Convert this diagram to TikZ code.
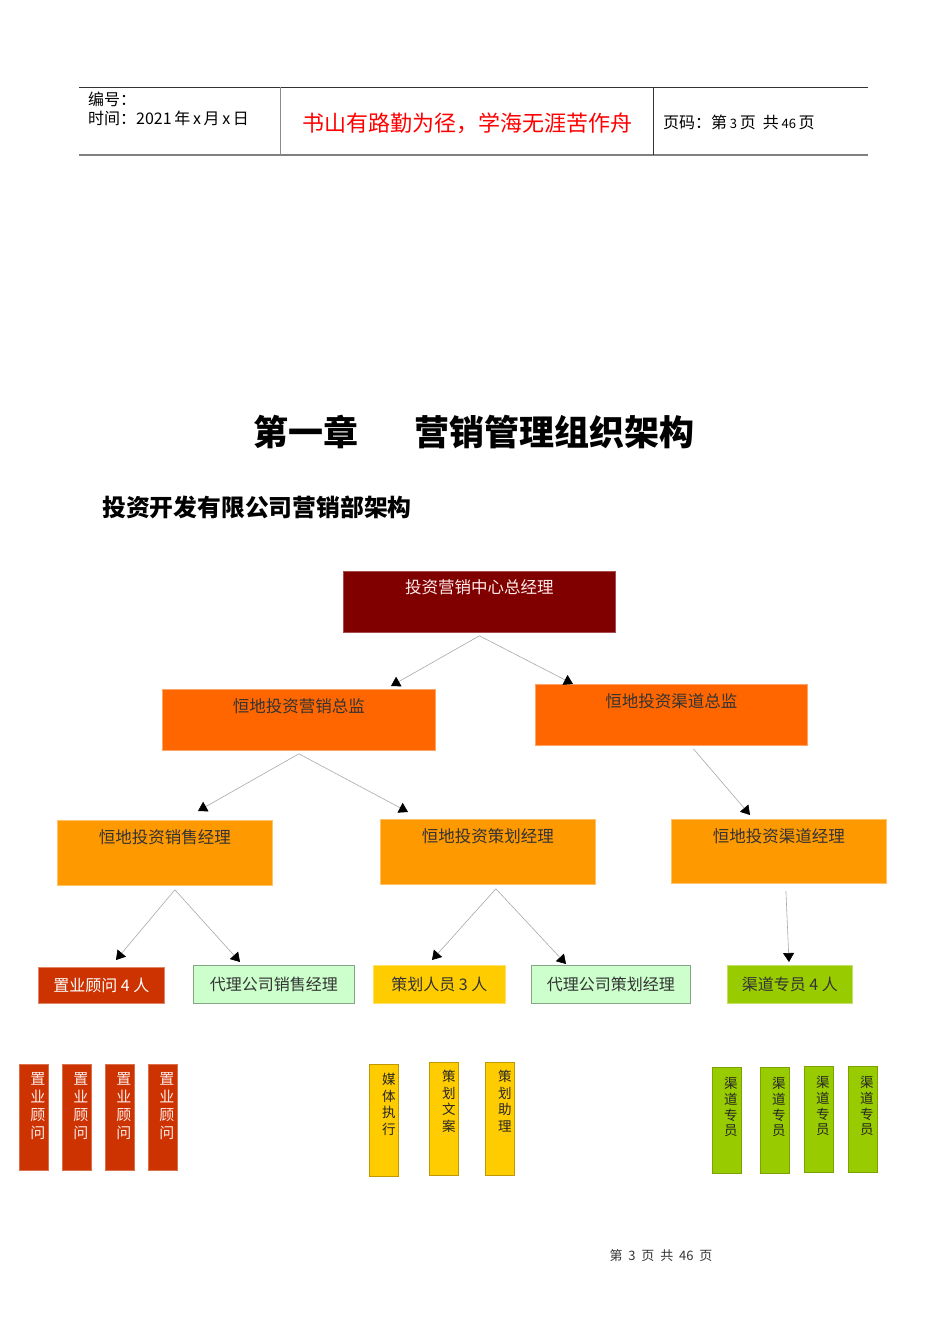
\documentclass[tikz,border=0pt]{standalone}
\usepackage{fontspec}
\setmainfont{Noto Sans CJK SC}
\usetikzlibrary{arrows.meta}
\definecolor{darkred}{HTML}{800000}
\definecolor{orangeA}{HTML}{FF6600}
\definecolor{orangeB}{HTML}{FF9900}
\definecolor{redC}{HTML}{CC3300}
\definecolor{paleG}{HTML}{CCFFCC}
\definecolor{yellowC}{HTML}{FFCC00}
\definecolor{greenC}{HTML}{99CC00}
\definecolor{redtext}{HTML}{FF0000}
\definecolor{linegray}{HTML}{A8A8A8}
\begin{document}
\begin{tikzpicture}[x=1pt,y=-1pt,
  box/.style={rectangle,anchor=north west,inner sep=0pt,line width=0.8pt},
  conn/.style={draw=linegray,line width=0.6pt,-{Triangle[width=11pt,length=9pt,black]}},
  boxtext/.style={font=\fontsize{16}{18}\selectfont},
  vtext/.style={anchor=north,align=center,inner sep=0pt}
]
\useasboundingbox (0,0) rectangle (950,1344);

% header
\draw[line width=0.8pt,black!80] (79,87) coordinate (hl) -- (868,87) coordinate (hr);
\draw[line width=1.4pt,black!50] (79,155) coordinate (bl) -- (868,155) coordinate (br);
\draw[line width=0.8pt,black!45] (280,87) coordinate (v1t) -- (280,155) coordinate (v1b);
\draw[line width=0.8pt,black!80] (653,87) coordinate (v2t) -- (653,155) coordinate (v2b);
\node[anchor=west,inner sep=0pt,font=\fontsize{16}{18}\selectfont] (hno) at (88,99) {编号：};
\node[anchor=west,inner sep=0pt,font=\fontsize{16}{18}\selectfont] (htime) at (88,118) {时间：2021\,年\,x\,月\,x\,日};
\node[inner sep=0pt,font=\fontsize{22}{24}\selectfont,text=redtext] (hmotto) at (467,123) {书山有路勤为径，学海无涯苦作舟};
\node[anchor=west,inner sep=0pt,font=\fontsize{16}{18}\selectfont] (hpage) at (663,122) {页码：第\,{\fontsize{13}{14}\selectfont 3}\,页\ \ 共\,{\fontsize{13}{14}\selectfont 46}\,页};

% titles
\node[inner sep=0pt,font=\bfseries\fontsize{35}{37}\selectfont] (title) at (474,432) {第一章\hspace{1.6em}营销管理组织架构};
\node[anchor=west,inner sep=0pt,font=\bfseries\fontsize{23.8}{26}\selectfont] (subtitle) at (102,507) {投资开发有限公司营销部架构};

% level 1
\node[box,fill=darkred,draw=darkred!70!white,minimum width=272pt,minimum height=61pt,
  label={[anchor=center,yshift=-16pt,inner sep=0pt,font=\fontsize{16.5}{18}\selectfont,text=red!8!white]north:投资营销中心总经理}] (top) at (343,571) {};

% level 2
\node[box,fill=orangeA,draw=orangeA!60!white,minimum width=273pt,minimum height=61pt,
  label={[anchor=center,yshift=-17pt,inner sep=0pt,font=\fontsize{16.5}{18}\selectfont,text=black!80]north:恒地投资营销总监}] (mkt) at (162,689) {};
\node[box,fill=orangeA,draw=orangeA!60!white,minimum width=272pt,minimum height=61pt,
  label={[anchor=center,yshift=-17pt,inner sep=0pt,font=\fontsize{16.5}{18}\selectfont,text=black!80]north:恒地投资渠道总监}] (chn) at (535,684) {};

% level 3
\node[box,fill=orangeB,draw=orangeB!60!white,minimum width=215pt,minimum height=65pt,
  label={[anchor=center,yshift=-17pt,inner sep=0pt,font=\fontsize{16.5}{18}\selectfont,text=black!80]north:恒地投资销售经理}] (sales) at (57,820) {};
\node[box,fill=orangeB,draw=orangeB!60!white,minimum width=215pt,minimum height=65pt,
  label={[anchor=center,yshift=-17pt,inner sep=0pt,font=\fontsize{16.5}{18}\selectfont,text=black!80]north:恒地投资策划经理}] (plan) at (380,819) {};
\node[box,fill=orangeB,draw=orangeB!60!white,minimum width=215pt,minimum height=64pt,
  label={[anchor=center,yshift=-17pt,inner sep=0pt,font=\fontsize{16.5}{18}\selectfont,text=black!80]north:恒地投资渠道经理}] (chm) at (671,819) {};

% level 4
\node[box,fill=redC,draw=redC!60!white,minimum width=126pt,minimum height=36pt,boxtext,text=white] (adv) at (38,967) {置业顾问 4 人};
\node[box,fill=paleG,draw=black!35!paleG,minimum width=161pt,minimum height=38pt,boxtext,text=black!80] (agS) at (193,965) {代理公司销售经理};
\node[box,fill=yellowC,draw=yellowC!60!white,minimum width=132pt,minimum height=38pt,boxtext,text=black!80] (planner) at (373,965) {策划人员 3 人};
\node[box,fill=paleG,draw=black!35!paleG,minimum width=159pt,minimum height=38pt,boxtext,text=black!80] (agP) at (531,965) {代理公司策划经理};
\node[box,fill=greenC,draw=greenC!60!white,minimum width=125pt,minimum height=38pt,boxtext,text=black!80] (chs) at (727,965) {渠道专员 4 人};

% level 5 red
\foreach \x [count=\i] in {19,62,105,148}{
  \node[box,fill=redC,draw=redC!70!white,minimum width=29pt,minimum height=106pt,
    label={[vtext,yshift=-8pt,xshift=4pt,font=\fontsize{15}{18.2}\selectfont,text=white!92!red]north:置\\业\\顾\\问}] (r\i) at (\x,1064) {};
}
% level 5 yellow
\node[box,fill=yellowC,draw=black!25!yellowC,minimum width=29pt,minimum height=112pt,
  label={[vtext,yshift=-9pt,xshift=5pt,font=\fontsize{13.5}{16.6}\selectfont,text=black!85]north:媒\\体\\执\\行}] (y1) at (369,1064) {};
\node[box,fill=yellowC,draw=black!25!yellowC,minimum width=29pt,minimum height=113pt,
  label={[vtext,yshift=-8pt,xshift=5pt,font=\fontsize{13.5}{16.6}\selectfont,text=black!85]north:策\\划\\文\\案}] (y2) at (429,1062) {};
\node[box,fill=yellowC,draw=black!25!yellowC,minimum width=29pt,minimum height=113pt,
  label={[vtext,yshift=-8pt,xshift=5pt,font=\fontsize{13.5}{16.6}\selectfont,text=black!85]north:策\\划\\助\\理}] (y3) at (485,1062) {};
% level 5 green
\foreach \x/\yy [count=\i] in {712/1067,760/1067,804/1066,848/1066}{
  \node[box,fill=greenC,draw=black!20!greenC,minimum width=29pt,minimum height=106pt,
    label={[vtext,yshift=-10pt,xshift=4pt,font=\fontsize{13.5}{15.8}\selectfont,text=black!85]north:渠\\道\\专\\员}] (g\i) at (\x,\yy) {};
}

% connector end points
\coordinate (e1) at (391,686);
\coordinate (e2) at (573,684);
\coordinate (e3) at (198,811);
\coordinate (e4) at (408,812);
\coordinate (e5) at (750,815);
\coordinate (e6) at (116,960);
\coordinate (e7) at (240,962);
\coordinate (e8) at (432,960);
\coordinate (e9) at (566,964);
\coordinate (e10) at (789,962);

\draw[conn] ([yshift=-3pt]top.south) -- (e1);
\draw[conn] ([yshift=-3pt]top.south) -- (e2);
\draw[conn] ([yshift=-3pt]mkt.south) -- (e3);
\draw[conn] ([yshift=-3pt]mkt.south) -- (e4);
\draw[conn] ([xshift=22pt,yshift=-3pt]chn.south) -- (e5);
\draw[conn] ([xshift=10pt,yshift=-4pt]sales.south) -- (e6);
\draw[conn] ([xshift=10pt,yshift=-4pt]sales.south) -- (e7);
\draw[conn] ([xshift=8pt,yshift=-4pt]plan.south) -- (e8);
\draw[conn] ([xshift=8pt,yshift=-4pt]plan.south) -- (e9);
\draw[conn] ([xshift=7pt,yshift=-7pt]chm.south) -- (e10);

% footer
\node[inner sep=0pt,font=\fontsize{13}{15}\selectfont,text=black!80] (footer) at (661,1256) {第\ \ 3\ \ 页\ \ 共\ \ 46\ \ 页};
\end{tikzpicture}
\end{document}
